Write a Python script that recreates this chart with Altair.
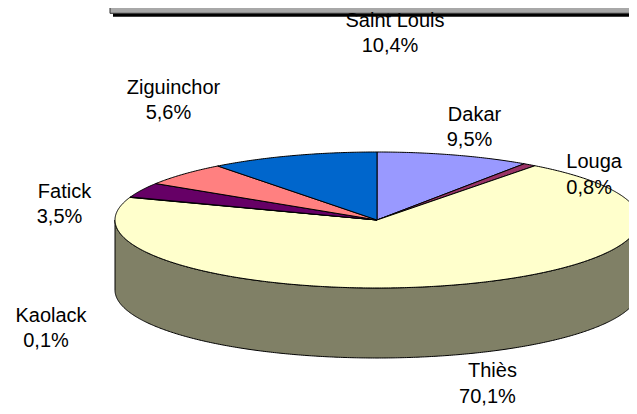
import altair as alt
import pandas as pd
import numpy as np

# ---- data ----
regions = ["Dakar", "Louga", "Thiès", "Kaolack", "Fatick", "Ziguinchor", "Saint Louis"]
shares = [9.5, 0.8, 70.1, 0.1, 3.5, 5.6, 10.4]
colors = ["#9999FF", "#993366", "#FFFFCC", "#CCFFFF", "#660066", "#FF8080", "#0066CC"]

# ---- layout / style ----
W, H = 621, 398          # plot size (px)
OX, OY = 8, 8            # page margin
CX, CY = 377.0, 220.0    # pie centre (page px)
RX, RY = 262.0, 68.0     # ellipse semi-axes
DEPTH = 70.0             # 3-D thickness
FONT = "Liberation Sans"
FS = 20
LINE = 25.5
# label offsets from the slice mid-angle point on the rim
label_dx = [18, 62, 37.5, -81.7, -79.7, -12.8, 99.6]
label_dy = [-34.3, 3.3, 92, 124.8, 7.9, -80.1, -128.9]


def rim(theta_deg, drop=0.0):
    t = np.radians(theta_deg)
    return CX + RX * np.sin(t), CY - RY * np.cos(t) + drop


def darken(hx):
    r, g, b = (int(hx[i:i + 2], 16) for i in (1, 3, 5))
    return "#%02x%02x%02x" % tuple(int(round(c / 2)) for c in (r, g, b))


total = sum(shares)
bounds = np.concatenate([[0.0], np.cumsum(shares)]) / total * 360.0

top_rows, wall_rows, lab_rows = [], [], []
for k, name in enumerate(regions):
    a0, a1 = bounds[k], bounds[k + 1]
    n = max(2, int(np.ceil((a1 - a0) / 0.5)) + 1)
    th = np.linspace(a0, a1, n)
    pts = [(CX, CY)] + [rim(t) for t in th] + [(CX, CY)]
    for i, (x, y) in enumerate(pts):
        top_rows.append({"slice": name, "i": i, "x": x, "y": y, "color": colors[k]})
    # visible side wall (front half of the ellipse)
    lo, hi = max(a0, 90.0), min(a1, 270.0)
    if hi > lo:
        m = max(2, int(np.ceil((hi - lo) / 0.5)) + 1)
        tw = np.linspace(lo, hi, m)
        wp = [rim(t) for t in tw] + [rim(t, DEPTH) for t in tw[::-1]]
        wp.append(wp[0])
        for i, (x, y) in enumerate(wp):
            wall_rows.append({"slice": name, "i": i, "x": x, "y": y, "color": darken(colors[k])})
    mid = (a0 + a1) / 2
    mx, my = rim(mid)
    lx, ly = mx + label_dx[k], my + label_dy[k]
    pct = f"{shares[k]:.1f}".replace(".", ",") + "%"
    lab_rows.append({"x": lx + 2.5, "y": ly, "text": name})
    lab_rows.append({"x": lx - 2.5, "y": ly + LINE, "text": pct})

top_df = pd.DataFrame(top_rows)
wall_df = pd.DataFrame(wall_rows)
lab_df = pd.DataFrame(lab_rows)

xs = alt.Scale(domain=[OX, OX + W], nice=False, zero=False)
ys = alt.Scale(domain=[OY, OY + H], nice=False, zero=False, reverse=True)

X = alt.X("x:Q", scale=xs, axis=None)
Y = alt.Y("y:Q", scale=ys, axis=None)

wall = alt.Chart(wall_df).mark_line(stroke="black", strokeWidth=1, strokeJoin="round", clip=True).encode(
    x=X, y=Y,
    fill=alt.Fill("color:N", scale=None, legend=None),
    detail="slice:N",
    order=alt.Order("i:Q"),
)

top = alt.Chart(top_df).mark_line(stroke="black", strokeWidth=1, strokeJoin="round", clip=True).encode(
    x=X, y=Y,
    fill=alt.Fill("color:N", scale=None, legend=None),
    detail="slice:N",
    order=alt.Order("i:Q"),
)

labels = alt.Chart(lab_df).mark_text(
    font=FONT, fontSize=FS, align="center", baseline="alphabetic", color="black"
).encode(x=X, y=Y, text="text:N")

# cropped title frame at the very top
one = pd.DataFrame({"k": [0]})
frame = alt.Chart(one).mark_rect(fill="#a8a8a8", stroke="#303030", strokeWidth=1, clip=True).encode(
    x=alt.value(102), x2=alt.value(W + 30), y=alt.value(-30), y2=alt.value(5.3)
)
inner = alt.Chart(one).mark_rect(fill="white", stroke="#808080", strokeWidth=1, clip=True).encode(
    x=alt.value(105), x2=alt.value(W + 30), y=alt.value(-30), y2=alt.value(-0.7)
)
shadow = alt.Chart(one).mark_rect(fill="black", clip=True).encode(
    x=alt.value(105), x2=alt.value(W + 30), y=alt.value(5.3), y2=alt.value(8.8)
)

chart = alt.layer(shadow, frame, inner, wall, top, labels).properties(
    width=W, height=H, padding=0, autosize=alt.AutoSizeParams(type="none")
).configure_view(strokeWidth=0)

chart.save("out.html", embed_options={"renderer": "svg", "actions": False})
